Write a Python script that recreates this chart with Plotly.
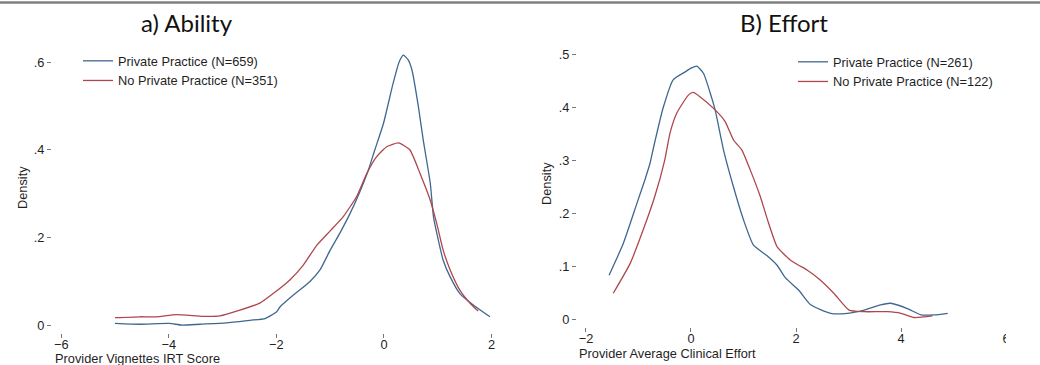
import plotly.graph_objects as go

# ---------------- data ----------------
# Panel a) Ability
abil_pp_x = [-5.0, -4.54, -3.99, -3.76, -3.42, -2.93, -2.49, -2.21, -2.0, -1.93, -1.69, -1.38, -1.19, -1.0,
             -0.82, -0.63, -0.45, -0.29, -0.17, -0.01, 0.17, 0.28, 0.36, 0.45, 0.52, 0.64, 0.73, 0.86, 0.92,
             1.01, 1.1, 1.23, 1.41, 1.66, 1.97]
abil_pp_y = [0.004, 0.002, 0.004, 0.0, 0.002, 0.005, 0.011, 0.015, 0.03, 0.042, 0.068, 0.099, 0.126, 0.171,
             0.21, 0.255, 0.304, 0.354, 0.40, 0.46, 0.552, 0.600, 0.616, 0.605, 0.582, 0.498, 0.422, 0.324, 0.247,
             0.194, 0.148, 0.11, 0.072, 0.046, 0.019]
abil_np_x = [-5.0, -4.54, -4.23, -3.86, -3.36, -3.05, -2.68, -2.31, -2.06, -1.75, -1.5, -1.25, -1.0, -0.76,
             -0.51, -0.32, -0.14, 0.05, 0.27, 0.48, 0.67, 0.86, 0.98, 1.1, 1.23, 1.41, 1.6, 1.75]
abil_np_y = [0.017, 0.019, 0.019, 0.024, 0.02, 0.021, 0.034, 0.05, 0.072, 0.103, 0.137, 0.182, 0.215, 0.247,
             0.293, 0.346, 0.384, 0.407, 0.416, 0.40, 0.346, 0.285, 0.232, 0.171, 0.126, 0.08, 0.05, 0.032]

# Panel B) Effort
eff_pp_x = [-1.56, -1.29, -1.03, -0.88, -0.78, -0.72, -0.53, -0.34, -0.11, 0.0, 0.11, 0.24, 0.36, 0.46, 0.62,
            0.81, 1.0, 1.19, 1.45, 1.64, 1.8, 2.05, 2.28, 2.66, 2.98, 3.3, 3.61, 3.8, 4.12, 4.38, 4.63, 4.89]
eff_pp_y = [0.083, 0.143, 0.219, 0.263, 0.295, 0.322, 0.400, 0.453, 0.468, 0.475, 0.479, 0.465, 0.430, 0.396,
            0.32, 0.25, 0.188, 0.14, 0.12, 0.102, 0.078, 0.055, 0.027, 0.011, 0.011, 0.017, 0.027, 0.03, 0.02,
            0.008, 0.008, 0.011]
eff_np_x = [-1.48, -1.16, -0.91, -0.69, -0.5, -0.4, -0.27, -0.05, 0.04, 0.17, 0.46, 0.65, 0.81, 0.97, 1.13,
            1.32, 1.48, 1.64, 1.89, 2.05, 2.21, 2.45, 2.72, 3.01, 3.3, 3.74, 4.0, 4.25, 4.6]
eff_np_y = [0.049, 0.105, 0.169, 0.232, 0.301, 0.352, 0.39, 0.424, 0.429, 0.421, 0.396, 0.374, 0.339, 0.32,
            0.282, 0.232, 0.181, 0.137, 0.112, 0.102, 0.093, 0.075, 0.049, 0.017, 0.014, 0.014, 0.011, 0.003,
            0.006]

abil_xticks = [-6, -4, -2, 0, 2]
abil_yticks = [0, 0.2, 0.4, 0.6]
abil_ytext = ["0", ".2", ".4", ".6"]
eff_xticks = [-2, 0, 2, 4, 6]
eff_yticks = [0, 0.1, 0.2, 0.3, 0.4, 0.5]
eff_ytext = ["0", ".1", ".2", ".3", ".4", ".5"]

titles = ["a) Ability", "B) Effort"]
xtitles = ["Provider Vignettes IRT Score", "Provider Average Clinical Effort"]
ytitle = "Density"
names_a = ["Private Practice (N=659)", "No Private Practice (N=351)"]
names_b = ["Private Practice (N=261)", "No Private Practice (N=122)"]

# ---------------- style ----------------
W, H = 1040, 365
BLUE = "#3f6790"
RED = "#ad474c"
TXT = "#1f1f1f"
TICK = "#777777"
FONT = "Liberation Sans, Arial, sans-serif"
TFONT = "Lato, Open Sans, sans-serif"
FS = 12.8


def px_x(p):
    return p / W


def px_y(p):
    return (H - p) / H


fig = go.Figure()
line_kw = dict(shape="spline", smoothing=0.5, width=1.3)
fig.add_trace(go.Scatter(x=abil_pp_x, y=abil_pp_y, mode="lines", name=names_a[0],
                         line=dict(color=BLUE, **line_kw), xaxis="x", yaxis="y", legend="legend"))
fig.add_trace(go.Scatter(x=abil_np_x, y=abil_np_y, mode="lines", name=names_a[1],
                         line=dict(color=RED, **line_kw), xaxis="x", yaxis="y", legend="legend"))
fig.add_trace(go.Scatter(x=eff_pp_x, y=eff_pp_y, mode="lines", name=names_b[0],
                         line=dict(color=BLUE, **line_kw), xaxis="x2", yaxis="y2", legend="legend2"))
fig.add_trace(go.Scatter(x=eff_np_x, y=eff_np_y, mode="lines", name=names_b[1],
                         line=dict(color=RED, **line_kw), xaxis="x2", yaxis="y2", legend="legend2"))

ax_common = dict(showgrid=False, zeroline=False, showline=False, ticks="outside", ticklen=4,
                 tickwidth=1, tickcolor=TICK, tickfont=dict(family=FONT, size=FS, color=TXT),
                 fixedrange=True)

fig.update_layout(
    width=W, height=H,
    margin=dict(l=0, r=0, t=0, b=0),
    paper_bgcolor="white", plot_bgcolor="white",
    xaxis=dict(domain=[px_x(52), px_x(496)], range=[-6.171, 2.082], tickvals=abil_xticks,
               anchor="y", ticklabelstandoff=-4, **ax_common),
    yaxis=dict(domain=[px_y(333), px_y(49)], range=[-0.018, 0.630], tickvals=abil_yticks,
               ticktext=abil_ytext, anchor="x", **ax_common),
    xaxis2=dict(domain=[px_x(577), px_x(1012)], range=[-2.171, 6.114], tickvals=eff_xticks,
                anchor="y2", ticklabelstandoff=-4, **ax_common),
    yaxis2=dict(domain=[px_y(326.5), px_y(44.4)], range=[-0.014, 0.520], tickvals=eff_yticks,
                ticktext=eff_ytext, anchor="x2", **ax_common),
    legend=dict(x=px_x(78), y=px_y(46), xanchor="left", yanchor="top", bgcolor="rgba(0,0,0,0)",
                font=dict(family=FONT, size=FS, color=TXT), itemwidth=30, tracegroupgap=0),
    legend2=dict(x=px_x(793), y=px_y(47), xanchor="left", yanchor="top", bgcolor="rgba(0,0,0,0)",
                 font=dict(family=FONT, size=FS, color=TXT), itemwidth=30, tracegroupgap=0),
    showlegend=True,
)

annotations = [
    dict(text=titles[0], x=px_x(187), y=px_y(23), xref="paper", yref="paper", xanchor="center",
         yanchor="middle", showarrow=False, font=dict(family=TFONT, size=24, color="#111111")),
    dict(text=titles[1], x=px_x(784), y=px_y(23), xref="paper", yref="paper", xanchor="center",
         yanchor="middle", showarrow=False, font=dict(family=TFONT, size=24, color="#111111")),
    dict(text=xtitles[0], x=px_x(53), y=px_y(358), xref="paper", yref="paper", xanchor="left",
         yanchor="middle", showarrow=False, font=dict(family=FONT, size=FS, color=TXT)),
    dict(text=xtitles[1], x=px_x(577), y=px_y(353), xref="paper", yref="paper", xanchor="left",
         yanchor="middle", showarrow=False, font=dict(family=FONT, size=FS, color=TXT)),
    dict(text=ytitle, x=px_x(22), y=px_y(188), xref="paper", yref="paper", xanchor="center",
         yanchor="middle", textangle=-90, showarrow=False, font=dict(family=FONT, size=FS, color=TXT)),
    dict(text=ytitle, x=px_x(547), y=px_y(184), xref="paper", yref="paper", xanchor="center",
         yanchor="middle", textangle=-90, showarrow=False, font=dict(family=FONT, size=FS, color=TXT)),
]
fig.update_layout(annotations=annotations)

shapes = [
    # grey rule along the top of the figure
    dict(type="line", xref="paper", yref="paper", x0=0, x1=1, y0=px_y(2.5), y1=px_y(2.5),
         line=dict(color="#808080", width=2.5)),
    # the source image is cropped on its right edge
    dict(type="rect", xref="paper", yref="paper", x0=px_x(1006), x1=1, y0=0, y1=px_y(320),
         fillcolor="white", line=dict(width=0), layer="above"),
]
fig.update_layout(shapes=shapes)

fig.write_html("out.html")
